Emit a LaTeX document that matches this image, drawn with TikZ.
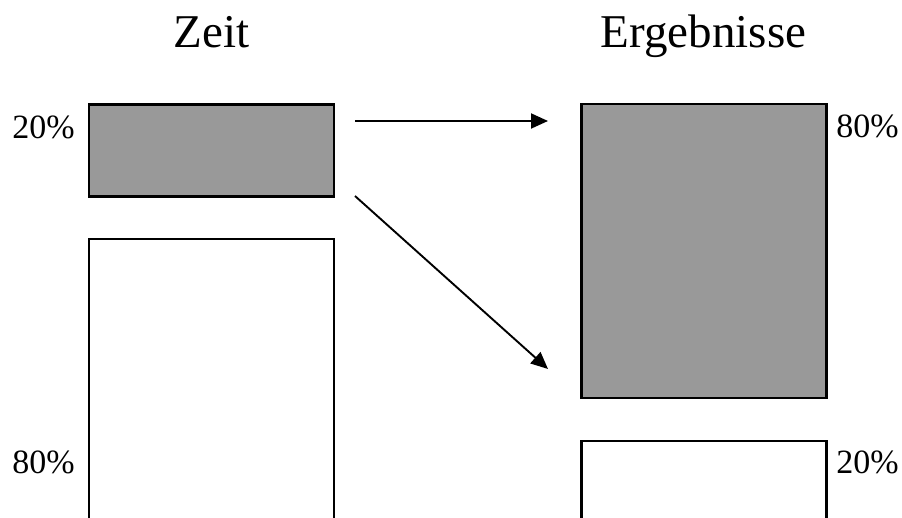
\documentclass[tikz,border=0pt]{standalone}
\usepackage{fontspec}
\setmainfont{Liberation Serif}
\usetikzlibrary{arrows.meta}
\definecolor{boxgray}{RGB}{153,153,153}
\tikzset{
  bar/.style={draw=black, line width=2.2pt, inner sep=0pt, minimum width=245pt},
  graybar/.style={bar, fill=boxgray},
  whitebar/.style={bar, fill=white},
  title/.style={inner sep=0pt, anchor=base, font=\fontsize{47}{56}\selectfont},
  pct/.style={inner sep=0pt, anchor=base, font=\fontsize{34}{40}\selectfont},
  flow/.style={line width=1.9pt, -{Triangle[length=17pt,width=15pt]}}
}
\begin{document}
\begin{tikzpicture}[x=1pt,y=-1pt]
\useasboundingbox[fill=white] (0,0) rectangle (902,518);
\clip (0,0) rectangle (902,518);
% titles
\node[title] (zeit) at (211.5,48) {Zeit};
\node[title] (erg) at (703.5,48) {Ergebnisse};
% bars
\node[graybar, minimum height=92pt] (lg) at (211.5,150.5) {};
\node[whitebar, minimum height=400pt, anchor=north] (lw) at (211.5,238.1) {};
\node[graybar, minimum height=294pt] (rg) at (704,251) {};
\node[whitebar, minimum height=200pt, anchor=north] (rw) at (704,440.1) {};
% labels
\node[pct] (l20) at (43.5,139) {20\%};
\node[pct] (l80) at (43.5,473) {80\%};
\node[pct] (r80) at (867.5,138) {80\%};
\node[pct] (r20) at (867.5,473) {20\%};
% arrows
\coordinate (a1s) at (355,121);
\coordinate (a1e) at (548,121);
\coordinate (a2s) at (355,196);
\coordinate (a2e) at (548,369);
\draw[flow] (a1s) -- (a1e);
\draw[flow] (a2s) -- (a2e);
\end{tikzpicture}
\end{document}
